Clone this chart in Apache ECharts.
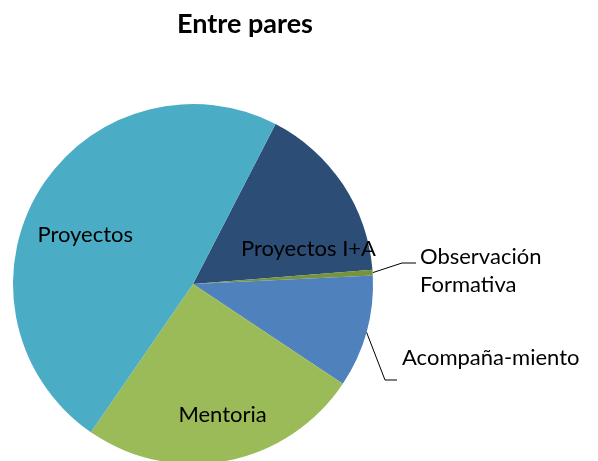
<!DOCTYPE html>
<html>
<head>
<meta charset="utf-8">
<script src="https://cdn.jsdelivr.net/npm/echarts@6/dist/echarts.min.js"></script>
<style>
html, body { margin: 0; padding: 0; background: #fff; }
#chart { width: 598px; height: 461px; }
</style>
</head>
<body>
<div id="chart"></div>
<script>
var categories = ['Proyectos I+A', 'Observación\nFormativa', 'Acompaña-miento', 'Mentoria', 'Proyectos'];
var values = [32, 1, 20, 50, 95];
var colors = ['#2C4D75', '#77933C', '#4F81BD', '#9BBB59', '#4BACC6'];

// nudges for the labels that sit inside the slices
var insideShift = [[38, 16], null, null, [12, 40], [-28, -1]];

var chart = echarts.init(document.getElementById('chart'));

var pieData = [];
for (var i = 0; i < values.length; i++) {
	var item = { name: categories[i], value: values[i], itemStyle: { color: colors[i] } };
	if (insideShift[i]) {
		item.label = { position: 'inside' };
		item.labelLine = { show: false };
	} else {
		item.label = { position: 'outside' };
	}
	pieData.push(item);
}

var option = {
	animation: false,
	title: {
		text: 'Entre pares',
		left: 240,
		top: 6,
		textAlign: 'center',
		textStyle: { fontFamily: 'Lato', fontWeight: 'bold', fontSize: 27, color: '#000' }
	},
	series: [{
		type: 'pie',
		center: [193, 284],
		radius: 180,
		startAngle: 62.7,
		clockwise: true,
		avoidLabelOverlap: false,
		label: {
			show: true,
			color: '#000',
			fontFamily: 'Lato',
			fontSize: 22,
			lineHeight: 28
		},
		labelLine: {
			show: true,
			lineStyle: { color: '#000', width: 1 }
		},
		labelLayout: function (p) {
			var s = insideShift[p.dataIndex];
			if (s) return { dx: s[0], dy: s[1] };
			if (p.dataIndex === 1) {
				return { x: 420, y: 271, align: 'left', verticalAlign: 'middle',
					labelLinePoints: [p.labelLinePoints[0], [402, 263], [416, 263]] };
			}
			if (p.dataIndex === 2) {
				return { x: 402, y: 358, align: 'left', verticalAlign: 'middle',
					labelLinePoints: [p.labelLinePoints[0], [385, 380], [397, 380]] };
			}
		},
		data: pieData
	}]
};

chart.setOption(option);
</script>
</body>
</html>
